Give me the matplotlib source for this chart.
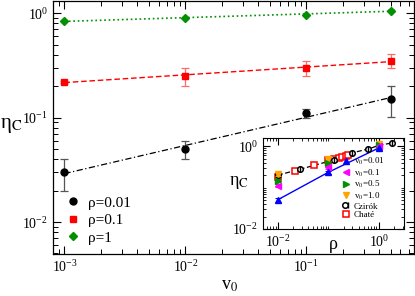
import numpy as np
import matplotlib
matplotlib.use("Agg")
import matplotlib.pyplot as plt
from matplotlib.ticker import LogLocator, NullFormatter, FixedLocator
from matplotlib.lines import Line2D
from matplotlib.legend_handler import HandlerTuple

plt.rcParams['font.family'] = ['Liberation Serif', 'DejaVu Serif']
plt.rcParams['mathtext.fontset'] = 'stix'

# ---------------- main data ----------------
v0 = [0.001, 0.01, 0.1, 0.5]
eta_r001 = [0.030, 0.050, 0.110, 0.151]
err_r001_lo = [0.010, 0.010, 0.011, 0.050]
err_r001_hi = [0.010, 0.010, 0.011, 0.050]
eta_r01 = [0.221, 0.252, 0.300, 0.352]
err_r01 = [0.006, 0.05, 0.05, 0.053]
eta_r1 = [0.84, 0.91, 0.97, 1.06]
err_r1 = [0.02, 0.02, 0.02, 0.04]
legend_main = ['ρ=0.01', 'ρ=0.1', 'ρ=1']

# ---------------- inset data ----------------
rho_sim = [0.01, 0.1, 1.0]
eta_v001 = [0.051, 0.235, 0.91]
eta_v01 = [0.112, 0.31, 1.0]
eta_v05 = [0.148, 0.395, 1.07]
eta_v1 = [0.214, 0.50, 1.12]
rho_czirok = [0.01, 0.028, 0.13, 0.29, 0.62, 1.0, 1.8]
eta_czirok = [0.20, 0.28, 0.47, 0.69, 0.86, 1.05, 1.2]
rho_chate = [0.01, 0.022, 0.052, 0.1, 0.13, 0.16, 0.19, 0.22, 0.25]
eta_chate = [0.18, 0.25, 0.35, 0.47, 0.50, 0.52, 0.55, 0.57, 0.60]
inset_labels = ['v$_0$=0.01', 'v$_0$=0.1', 'v$_0$=0.5', 'v$_0$=1.0', 'Czirók', 'Chaté']

GREEN = '#009000'
fig = plt.figure(figsize=(4.15, 2.96), dpi=100)
ax = fig.add_axes([53/415, 1-254/296, (414-53)/415, (254-1)/296])


def fitline(x, y):
    p = np.polyfit(np.log10(x), np.log10(y), 1)
    xx = np.array([min(x), max(x)])
    return xx, 10**np.polyval(p, np.log10(xx))


xx, yy = fitline(v0, eta_r001)
ax.plot(xx, yy, color='black', ls='-.', lw=0.9, dashes=(5, 2, 1, 2))
xx, yy = fitline(v0, eta_r01)
ax.plot(xx, yy, color='red', ls='--', lw=1.0, dashes=(4, 2))
xx, yy = fitline(v0, eta_r1)
ax.plot(xx, yy, color=GREEN, ls=':', lw=1.2)

ax.errorbar(v0, eta_r001, yerr=[err_r001_lo, err_r001_hi], fmt='o', color='black',
            ecolor='#555555', ms=5, capsize=3, elinewidth=0.9, capthick=0.9)
ax.errorbar(v0, eta_r01, yerr=err_r01, fmt='s', color='red',
            ecolor='#ff6a6a', ms=4.5, capsize=3, elinewidth=0.9, capthick=0.9)
ax.errorbar(v0, eta_r1, yerr=err_r1, fmt='D', color=GREEN,
            ecolor='#55aa55', ms=4.5, capsize=2, elinewidth=0.8, capthick=0.8)

ax.set_xscale('log')
ax.set_yscale('log')
ax.set_xlim(10**-3.095, 10**-0.11)
ax.set_ylim(10**-2.306, 10**0.118)
ax.xaxis.set_major_locator(LogLocator(base=10, numticks=10))
ax.xaxis.set_minor_locator(LogLocator(base=10, subs=np.arange(2, 10), numticks=10))
ax.yaxis.set_major_locator(LogLocator(base=10, numticks=10))
ax.yaxis.set_minor_locator(LogLocator(base=10, subs=np.arange(2, 10), numticks=10))
ax.xaxis.set_minor_formatter(NullFormatter())
ax.yaxis.set_minor_formatter(NullFormatter())
ax.tick_params(which='both', direction='in', top=True, right=True, labelsize=10)
ax.tick_params(which='major', length=6, width=0.8)
ax.tick_params(which='minor', length=3.5, width=0.7)
for s in ax.spines.values():
    s.set_linewidth(0.9)
ax.set_xlabel('v$_0$', fontsize=13, labelpad=4)
ax.set_ylabel('η$_\\mathrm{C}$', fontsize=15, rotation=0, labelpad=12)
ax.yaxis.set_label_coords(-0.115, 0.47)
ax.xaxis.set_label_coords(0.49, -0.09)

hm = [Line2D([], [], ls='none', marker='o', color='black', ms=5),
      Line2D([], [], ls='none', marker='s', color='red', ms=4.5),
      Line2D([], [], ls='none', marker='D', color=GREEN, ms=4.5)]
ax.legend(hm, legend_main, loc='lower left', bbox_to_anchor=(0.005, -0.005), frameon=False,
          fontsize=11, handlelength=1.0, handletextpad=0.5, labelspacing=0.25, borderpad=0.2)

# ---------------- inset ----------------
ins = fig.add_axes([263/415, 1-229/296, (404-263)/415, (229-138)/296])
ins.plot(rho_sim, eta_v001, color='blue', lw=1.0, zorder=2)
ins.plot(rho_czirok, eta_czirok, color='black', ls='--', lw=0.9, dashes=(4, 2), zorder=2)
ins.plot(rho_chate, eta_chate, ls='none', marker='s', ms=4, mfc='white', mec='red', mew=1.1, zorder=3)
ins.plot(rho_czirok, eta_czirok, ls='none', marker='o', ms=4, mfc='white', mec='black', mew=1.1, zorder=4)
ins.plot(rho_czirok, eta_czirok, ls='none', marker='|', ms=4, color='black', mew=1.0, zorder=5)
ek = dict(capsize=2, elinewidth=0.7, capthick=0.7, ls='none', zorder=6)
ins.errorbar(rho_sim, eta_v1, yerr=[0.1*e for e in eta_v1], fmt='v', color='#ffa500', ms=4.5, **ek)
ins.errorbar(rho_sim, eta_v05, yerr=[0.1*e for e in eta_v05], fmt='>', color=GREEN, ms=4.5, **ek)
ins.errorbar(rho_sim, eta_v01, yerr=[0.1*e for e in eta_v01], fmt='<', color='#ff00ff', ms=4.5, **ek)
ins.errorbar(rho_sim, eta_v001, yerr=[0.1*e for e in eta_v001], fmt='^', color='blue', ms=4.5, **ek)

ins.set_xscale('log')
ins.set_yscale('log')
ins.set_xlim(10**-2.295, 10**0.5)
ins.set_ylim(10**-2.0, 10**0.2)
ins.xaxis.set_major_locator(FixedLocator([1e-2, 1e0]))
ins.yaxis.set_major_locator(FixedLocator([1e-2, 1e0]))
minors = [m * 10.0**e for e in (-3, -2, -1, 0) for m in range(1, 10)]
minors = [m for m in minors if m not in (1e-2, 1.0)]
ins.xaxis.set_minor_locator(FixedLocator(minors))
ins.yaxis.set_minor_locator(FixedLocator(minors))
ins.xaxis.set_minor_formatter(NullFormatter())
ins.yaxis.set_minor_formatter(NullFormatter())
ins.tick_params(which='both', direction='in', top=True, right=True, labelsize=10)
ins.tick_params(which='major', length=5, width=0.8)
ins.tick_params(which='minor', length=2.5, width=0.6)
ins.set_xlabel('ρ', fontsize=13, labelpad=0)
ins.xaxis.set_label_coords(0.5, -0.08)
ins.set_ylabel('η$_\\mathrm{C}$', fontsize=13, rotation=0, labelpad=6)
ins.yaxis.set_label_coords(-0.17, 0.42)

ih = [Line2D([], [], ls='none', marker='^', color='blue', ms=4.5),
      Line2D([], [], ls='none', marker='<', color='#ff00ff', ms=4.5),
      Line2D([], [], ls='none', marker='>', color=GREEN, ms=4.5),
      Line2D([], [], ls='none', marker='v', color='#ffa500', ms=4.5),
      (Line2D([], [], ls='none', marker='o', ms=4, mfc='white', mec='black', mew=1.1),
       Line2D([], [], ls='none', marker='|', ms=4, color='black', mew=1.0)),
      Line2D([], [], ls='none', marker='s', ms=4, mfc='white', mec='red', mew=1.1)]
ins.legend(ih, inset_labels, loc='upper left', bbox_to_anchor=(0.53, 0.86), frameon=False,
           fontsize=6.5, handlelength=0.8, handletextpad=0.4, labelspacing=0.05, borderpad=0.05,
           handler_map={tuple: HandlerTuple(ndivide=None, pad=0)})

fig.savefig('out.png', dpi=100)
